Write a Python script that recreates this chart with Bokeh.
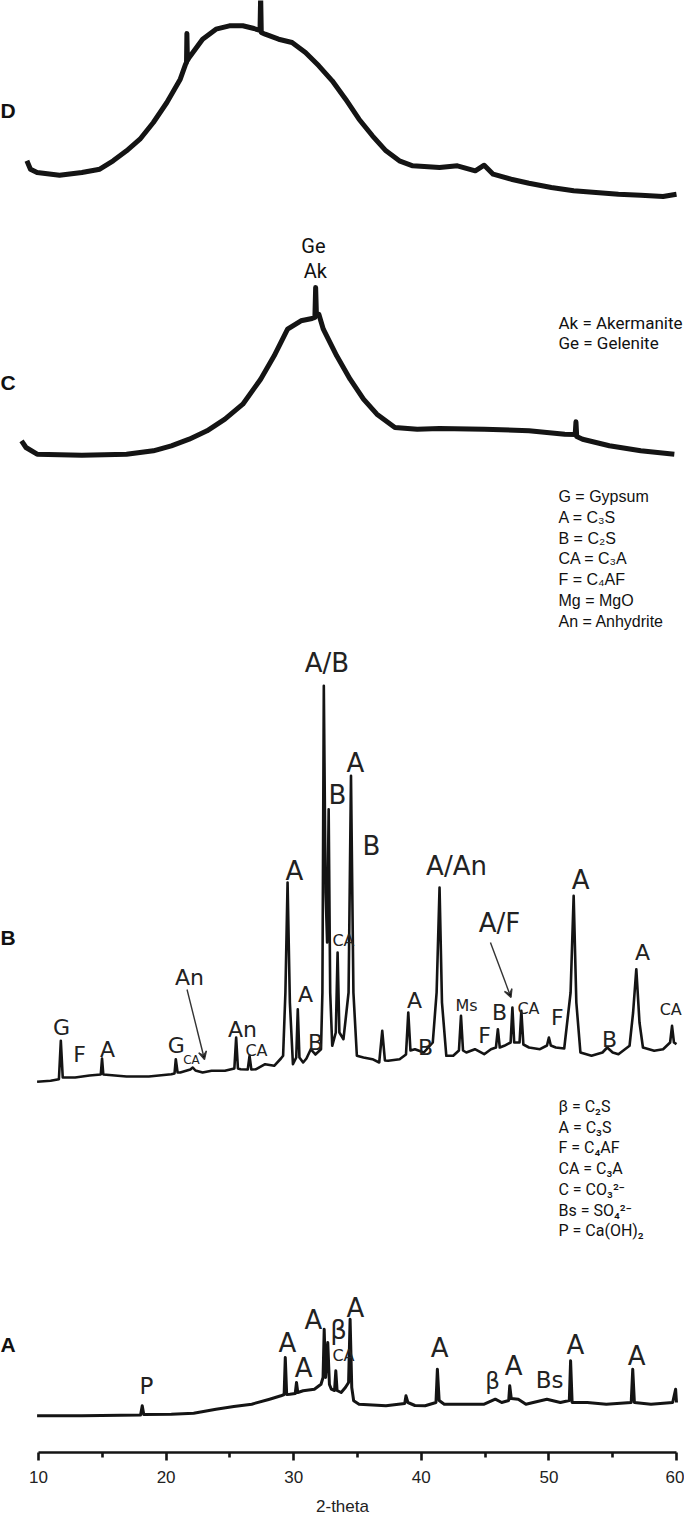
from bokeh.plotting import figure
from bokeh.models import Range1d, FixedTicker, ColumnDataSource, Arrow, VeeHead, Label
from bokeh.core.properties import value, field
from bokeh.embed import file_html
from bokeh.resources import INLINE

# ---------------- data ----------------
# Pattern D
D_2theta = [9.09, 9.37, 9.89, 11.65, 13.40, 14.80, 15.85, 16.90, 17.95, 19.00, 20.06, 21.11,
            21.53, 21.60, 21.63, 21.67, 21.81, 22.86, 23.91, 24.96, 26.01, 26.89, 27.36, 27.41,
            27.46, 27.76, 28.82, 29.87, 30.92, 31.97, 33.02, 34.07, 35.12, 36.17, 37.23, 38.28,
            39.33, 41.43, 42.83, 44.23, 44.93, 45.63, 47.04, 48.44, 50.19, 51.94, 53.69, 55.45,
            57.20, 58.95, 60.0]
D_counts = [41.7, 33.3, 30, 27.3, 30, 33.3, 41.7, 51.7, 63.3, 80, 100, 123.3,
            138.3, 140, 169, 142, 145, 163.3, 173.3, 176.7, 176.7, 174, 172, 207,
            170, 168.3, 163.3, 160, 150, 136.7, 121.7, 103.3, 83.3, 66.7, 51.7, 41.7,
            36.7, 35, 36.7, 31.7, 37.3, 28.3, 23.3, 19.3, 15, 11.7, 10, 8.3,
            7.3, 6, 8.3]

# Pattern C
C_2theta = [8.67, 9.02, 9.89, 13.40, 16.90, 19.00, 20.41, 21.81, 23.21, 24.61, 26.01, 27.41,
            28.47, 29.52, 30.57, 31.44, 31.66, 31.72, 31.78, 31.97, 32.32, 33.37, 34.42, 35.47,
            36.52, 37.93, 39.68, 41.43, 44.93, 48.44, 51.24, 52.06, 52.12, 52.18, 52.64, 54.74,
            57.20, 59.83]
C_counts = [16.7, 10, 3.3, 2.3, 3.3, 6.7, 11.7, 18.3, 26.7, 38.3, 53.3, 78.3,
            101.7, 128.3, 136.7, 139, 140, 170, 143, 143.3, 128.3, 101.7, 78.3, 58.3,
            43.3, 30, 28.3, 29, 28.3, 26.7, 23.3, 23, 35.7, 21, 18.3, 11.7,
            6.7, 3.3]

# Pattern B
B_2theta = [9.89, 10.95, 11.60, 11.75, 11.90, 12.87, 14.0, 14.88, 14.98, 15.08, 16.90, 18.65,
            20.41, 20.66, 20.76, 20.90, 21.11, 21.9, 22.09, 22.3, 22.86, 23.56, 24.61, 25.35,
            25.49, 25.63, 25.84, 26.40, 26.54, 26.68, 27.06, 27.76, 28.47, 29.0, 29.17, 29.35,
            29.52, 29.70, 29.94, 30.20, 30.32, 30.45, 30.74, 31.0, 31.34, 31.7, 32.14, 32.25,
            32.36, 32.50, 32.62, 32.74, 32.86, 33.02, 33.30, 33.44, 33.58, 33.9, 34.30, 34.49,
            34.68, 34.95, 35.47, 36.17, 36.70, 36.94, 37.15, 37.40, 38.3, 38.80, 38.98, 39.15,
            39.5, 40.2, 40.9, 41.20, 41.43, 41.62, 41.96, 42.5, 42.95, 43.11, 43.27, 43.53,
            44.2, 44.93, 45.46, 45.85, 46.0, 46.15, 46.5, 47.0, 47.14, 47.28, 47.4, 47.70,
            47.84, 48.0, 48.44, 49.3, 49.85, 50.0, 50.15, 50.54, 51.2, 51.70, 51.94, 52.15,
            52.47, 53.34, 54.2, 54.57, 55.0, 55.45, 56.32, 56.60, 56.85, 57.10, 57.37, 58.25,
            58.95, 59.50, 59.65, 59.80, 60.0]
B_counts = [0.7, 1.7, 3.3, 41.7, 5, 5, 7, 8, 24, 8, 6, 6,
            8.3, 9, 23.3, 10, 10, 13, 15, 12, 10, 11.7, 11.7, 14,
            45, 14, 13.3, 13, 26.7, 13, 13.3, 18.3, 16.7, 24, 26.7, 90,
            200, 80, 18.3, 25, 73.3, 25, 20, 24, 33.3, 28, 33.3, 90,
            396.7, 190, 140, 273.3, 90, 36.7, 50, 130, 50, 43.3, 90, 306.7,
            90, 26.7, 25, 23.3, 20, 51.7, 22, 21.7, 23.3, 28, 70, 32,
            33.3, 30, 40, 90, 195, 80, 26.7, 26.7, 32, 66.7, 32, 30,
            33.3, 28.3, 33.3, 35, 53.3, 35, 36.7, 40, 75, 40, 40, 40,
            71.7, 38, 35, 33.3, 37, 45, 37, 35, 34, 90, 186.7, 80,
            30, 26.7, 30, 35, 30, 28.3, 36.7, 70, 113.3, 60, 35, 31.7,
            33.3, 40, 56.7, 40, 38.3]

# Pattern A
A_2theta = [9.89, 13.4, 18.0, 18.13, 18.25, 20.41, 22.16, 23.91, 25.31, 26.71, 28.11, 29.0,
            29.25, 29.34, 29.45, 29.69, 30.12, 30.22, 30.32, 30.74, 31.62, 32.14, 32.30, 32.39,
            32.50, 32.67, 32.80, 32.95, 33.20, 33.30, 33.40, 33.72, 34.05, 34.30, 34.42, 34.55,
            34.70, 35.12, 37.23, 38.70, 38.80, 38.95, 39.5, 40.3, 41.15, 41.26, 41.40, 41.8,
            44.93, 45.8, 46.3, 46.85, 46.93, 47.05, 47.6, 48.2, 49.84, 50.9, 51.60, 51.70,
            51.82, 53.0, 54.5, 56.45, 56.57, 56.70, 58.0, 59.7, 59.93, 60.0]
A_counts = [1.7, 1.7, 2.5, 11.7, 3, 3.3, 4.3, 8.3, 11, 13.3, 18.3, 21.7,
            23, 60, 23, 23.3, 24, 35, 25, 26.7, 28.3, 33.3, 40, 88.3,
            40, 75, 33, 28.3, 27, 46.7, 27, 25, 30, 35, 98.3, 30,
            16.7, 13.3, 11.7, 14, 21.7, 15, 12, 11.7, 15, 48.3, 17, 13.3,
            13.3, 18.3, 15, 17, 31.7, 19, 18.3, 13.3, 18.3, 15, 17, 56.7,
            15, 15, 13.3, 15, 48.3, 15, 13.3, 15, 28.3, 15]

# Peak labels
B_label_text = ["A/B", "B", "A", "B", "A", "A/An", "A", "A/F",
                "A", "An", "A", "G", "F", "A", "G", "An", "B", "A", "B", "F", "B", "F", "B",
                "CA", "CA", "CA", "Ms", "CA", "CA"]
B_label_2theta = [32.6, 33.43, 34.84, 36.10, 30.06, 42.76, 52.48, 46.13,
                  30.92, 21.83, 57.34, 11.80, 13.21, 15.41, 20.8, 25.99, 31.71, 39.47, 40.33, 44.95, 46.13, 50.67, 54.75,
                  33.90, 59.55, 27.08, 43.54, 48.40, 21.99]
B_label_counts = [420, 288, 320, 237, 212, 217, 203, 160,
                  88, 105, 130, 55, 28, 33, 37, 53, 40, 82, 35, 47, 70, 65, 43,
                  142, 73, 32, 77, 74, 23]
B_label_class = ["L"] * 8 + ["M"] * 15 + ["S"] * 5 + ["XS"]

A_label_text = ["A", "A", "A", "β", "A", "A", "A", "A", "A", "P", "β", "Bs", "CA"]
A_label_2theta = [29.51, 30.77, 31.55, 33.51, 34.84, 41.43, 47.23, 52.08, 56.87, 18.46, 45.58, 50.05, 33.90]
A_label_counts = [75, 50, 98, 88, 110, 70, 52, 73, 62, 32, 37, 38, 62]
A_label_class = ["L"] * 9 + ["M"] * 3 + ["S"]

C_label_text = ["Ge", "Ak"]
C_label_2theta = [31.55, 31.7]
C_label_counts = [212, 187]

# Arrows in pattern B: (2theta, counts) start -> end
B_arrow_start_2theta = [21.64, 45.42]
B_arrow_start_counts = [93, 140]
B_arrow_end_2theta = [23.01, 47.03]
B_arrow_end_counts = [23, 85]

# Key texts
key_C = ["Ak = Akermanite", "Ge = Gelenite"]
key_B = ["G = Gypsum", "A = C\u2083S", "B = C\u2082S", "CA = C\u2083A", "F = C\u2084AF",
         "Mg = MgO", "An = Anhydrite"]
key_A = ["\u03b2 = C\u2082S", "A = C\u2083S", "F = C\u2084AF", "CA = C\u2083A",
         "C = CO\u2083\u00b2\u207b", "Bs = SO\u2084\u00b2\u207b", "P = Ca(OH)\u2082"]

x_ticks = [10, 20, 30, 40, 50, 60]
x_minor = [15, 25, 35, 45, 55]

# ---------------- layout / style ----------------
offset = {"D": 1250, "C": 995, "B": 370, "A": 35}
FRAME_BOTTOM_PAGE = 1460   # page-y of the axis line

def ypage(py):
    return FRAME_BOTTOM_PAGE - py

p = figure(width=684, height=1519, x_range=Range1d(7.022, 60.627), y_range=Range1d(0, 1452),
           output_backend="svg", toolbar_location=None, y_axis_location=None,
           min_border_left=0, min_border_right=0, min_border_top=0, min_border_bottom=67,
           outline_line_color=None, background_fill_color="white", border_fill_color="white")
p.grid.visible = False

ink = "#141414"
p.line(D_2theta, [offset["D"] + v for v in D_counts], line_color=ink, line_width=5, line_join="round")
p.line(C_2theta, [offset["C"] + v for v in C_counts], line_color=ink, line_width=5, line_join="round")
p.line(B_2theta, [offset["B"] + v for v in B_counts], line_color=ink, line_width=2.6, line_join="round")
p.line(A_2theta, [offset["A"] + v for v in A_counts], line_color=ink, line_width=3, line_join="round")

size_map_B = {"L": "26px", "M": "22px", "S": "16px", "XS": "12px"}
size_map_A = {"L": "26px", "M": "23px", "S": "16px"}

srcB = ColumnDataSource(dict(x=B_label_2theta, y=[offset["B"] + v for v in B_label_counts],
                             t=B_label_text, s=[size_map_B[c] for c in B_label_class]))
p.text(x="x", y="y", text="t", source=srcB, text_font=value("DejaVu Sans"),
       text_font_size=field("s"), text_align="center", text_baseline="middle", text_color="#222222")

srcA = ColumnDataSource(dict(x=A_label_2theta, y=[offset["A"] + v for v in A_label_counts],
                             t=A_label_text, s=[size_map_A[c] for c in A_label_class]))
p.text(x="x", y="y", text="t", source=srcA, text_font=value("DejaVu Sans"),
       text_font_size=field("s"), text_align="center", text_baseline="middle", text_color="#222222")

srcC = ColumnDataSource(dict(x=C_label_2theta, y=[offset["C"] + v for v in C_label_counts], t=C_label_text))
p.text(x="x", y="y", text="t", source=srcC, text_font=value("Roboto"),
       text_font_size="20px", text_align="center", text_baseline="middle", text_color="#111111")

for xs, ys, xe, ye in zip(B_arrow_start_2theta, B_arrow_start_counts, B_arrow_end_2theta, B_arrow_end_counts):
    p.add_layout(Arrow(end=VeeHead(size=8, line_width=1.3, line_color="#333333"),
                       x_start=xs, y_start=offset["B"] + ys, x_end=xe, y_end=ye + offset["B"],
                       line_width=1.4, line_color="#333333"))

# keys
key_x = 50.75
def add_key(lines, first_page_y, step, font, size):
    for i, t in enumerate(lines):
        p.add_layout(Label(x=key_x, y=ypage(first_page_y + i * step), text=t, text_font=font,
                           text_font_size=size, text_baseline="middle", text_align="left",
                           text_color="#111111"))

add_key(key_C, 330, 20.5, "Roboto", "17px")
add_key(key_B, 504, 20.8, "Liberation Sans", "16px")
add_key(key_A, 1114, 20.7, "Roboto", "16px")

# panel letters
for letter, py in [("D", 118), ("C", 390), ("B", 945), ("A", 1352)]:
    p.add_layout(Label(x=0, x_units="screen", y=ypage(py), text=letter, text_font="Liberation Sans",
                       text_font_style="bold", text_font_size="21px", text_baseline="middle",
                       text_color="#111111"))

ax = p.xaxis[0]
ax.ticker = FixedTicker(ticks=x_ticks, minor_ticks=x_minor)
ax.bounds = (10, 60)
ax.axis_line_width = 2.6
ax.axis_line_color = ink
ax.major_tick_in = 0
ax.major_tick_out = 8
ax.minor_tick_in = 0
ax.minor_tick_out = 5
ax.major_tick_line_width = 2.6
ax.minor_tick_line_width = 2.6
ax.major_tick_line_color = ink
ax.minor_tick_line_color = ink
ax.major_label_text_font = "Liberation Sans"
ax.major_label_text_font_size = "17px"
ax.major_label_text_color = "#222222"
ax.major_label_standoff = 10
ax.axis_label = "2-theta"
ax.axis_label_text_font = "Liberation Sans"
ax.axis_label_text_font_style = "normal"
ax.axis_label_text_font_size = "17px"
ax.axis_label_text_color = "#222222"
ax.axis_label_standoff = 11

open("out.html", "w").write(file_html(p, INLINE))
